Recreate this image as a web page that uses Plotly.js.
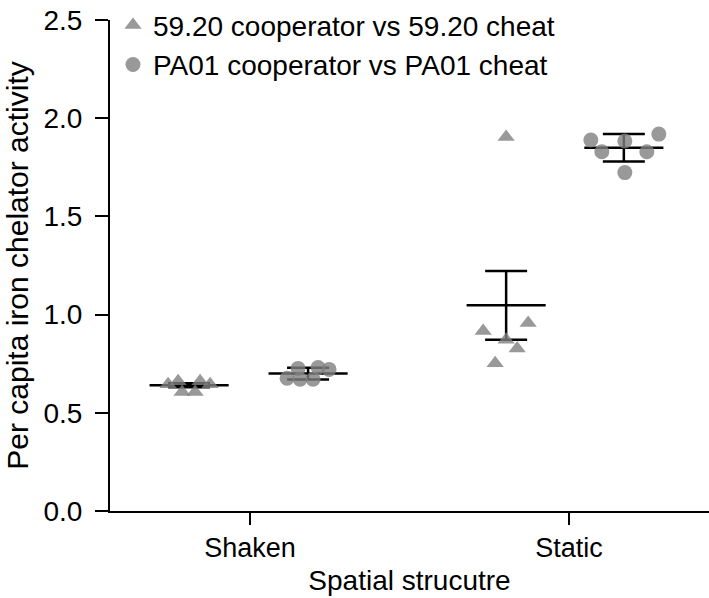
<!DOCTYPE html>
<html>
<head>
<meta charset="utf-8">
<script src="https://cdn.plot.ly/plotly-3.0.1.min.js"></script>
<style>html,body{margin:0;padding:0;background:#fff;}#chart{width:709px;height:598px;}</style>
</head>
<body>
<div id="chart"></div>
<script>
// ---- data ----
const categories = ["Shaken", "Static"];
const seriesNames = ["59.20 cooperator vs 59.20 cheat", "PA01 cooperator vs PA01 cheat"];

const coop5920Shaken = [0.646, 0.661, 0.606, 0.606, 0.661, 0.646];
const coop5920Static = [0.917, 0.957, 0.872, 0.827, 0.752, 1.904];
const pa01Shaken = [0.676, 0.726, 0.671, 0.731, 0.721, 0.671];
const pa01Static = [1.889, 1.829, 1.884, 1.829, 1.919, 1.723];

const means5920 = [0.640, 1.047];
const err5920 = [0.010, 0.175];
const meansPA01 = [0.700, 1.849];
const errPA01 = [0.030, 0.070];

// ---- layout helpers (positions / styles) ----
const tickPos = [1, 2];
const groupCenter5920 = [0.809, 1.803];
const groupCenterPA01 = [1.182, 2.172];
const pxPerUnit = 319;
const jit5920Shaken = [-21, -11, -7, 6, 11, 21];
const jit5920Static = [-23, 22, 0, 11, -11, 0];
const jitPA01Shaken = [-21, -10, -8, 10, 21, 5];
const jitPA01Static = [-33, -22, 1, 23, 35, 1];
const halfMean = 0.124;
const grey = 'rgb(128,128,128)';

function xs(center, jit) { return jit.map(j => center + j / pxPerUnit); }

const traces = [];
function meanLine(cx, m) {
  traces.push({x: [cx - halfMean, cx + halfMean], y: [m, m], mode: 'lines',
    line: {color: 'black', width: 2.5}, showlegend: false, hoverinfo: 'skip'});
}
for (let i = 0; i < 2; i++) {
  meanLine(groupCenter5920[i], means5920[i]);
  meanLine(groupCenterPA01[i], meansPA01[i]);
}
traces.push({x: groupCenter5920, y: means5920, mode: 'markers', marker: {size: 1, color: 'rgba(0,0,0,0)'},
  error_y: {type: 'data', array: err5920, visible: true, color: 'black', thickness: 2.5, width: 21},
  showlegend: false, hoverinfo: 'skip'});
traces.push({x: groupCenterPA01, y: meansPA01, mode: 'markers', marker: {size: 1, color: 'rgba(0,0,0,0)'},
  error_y: {type: 'data', array: errPA01, visible: true, color: 'black', thickness: 2.5, width: 21},
  showlegend: false, hoverinfo: 'skip'});

traces.push({
  x: xs(groupCenter5920[0], jit5920Shaken).concat(xs(groupCenter5920[1], jit5920Static)),
  y: coop5920Shaken.concat(coop5920Static),
  mode: 'markers', name: seriesNames[0],
  marker: {symbol: 'triangle-up', size: 15, color: grey, opacity: 0.8}
});
traces.push({
  x: xs(groupCenterPA01[0], jitPA01Shaken).concat(xs(groupCenterPA01[1], jitPA01Static)),
  y: pa01Shaken.concat(pa01Static),
  mode: 'markers', name: seriesNames[1],
  marker: {symbol: 'circle', size: 15, color: grey, opacity: 0.8}
});

const fam = 'Liberation Sans, Arial, sans-serif';

const layout = {
  width: 709, height: 598,
  margin: {l: 110, r: 0, t: 14, b: 87, pad: 0},
  paper_bgcolor: 'white', plot_bgcolor: 'white',
  font: {family: fam, color: 'black', size: 28},
  showlegend: true,
  legend: {x: 0.005, y: 1.04, xanchor: 'left', yanchor: 'top', bgcolor: 'rgba(0,0,0,0)',
    font: {family: fam, size: 28, color: 'black'}, itemwidth: 30, tracegroupgap: 0},
  xaxis: {
    range: [0.561, 2.439], tickvals: tickPos, ticktext: categories,
    showgrid: false, zeroline: false, showline: true, linecolor: 'black', linewidth: 2,
    ticks: 'outside', ticklen: 12, tickwidth: 2, tickcolor: 'black',
    tickfont: {size: 27}, title: {text: 'Spatial strucutre', font: {size: 28}, standoff: 8}
  },
  yaxis: {
    range: [0, 2.5], tickvals: [0, 0.5, 1, 1.5, 2, 2.5], tickformat: '.1f',
    showgrid: false, zeroline: false, showline: true, linecolor: 'black', linewidth: 2,
    ticks: 'outside', ticklen: 13, tickwidth: 2, tickcolor: 'black', ticklabelstandoff: 7,
    tickfont: {size: 28}, title: {text: 'Per capita iron chelator activity', font: {size: 30}, standoff: 6}
  }
};

Plotly.newPlot('chart', traces, layout, {displayModeBar: false, staticPlot: true});
</script>
</body>
</html>
